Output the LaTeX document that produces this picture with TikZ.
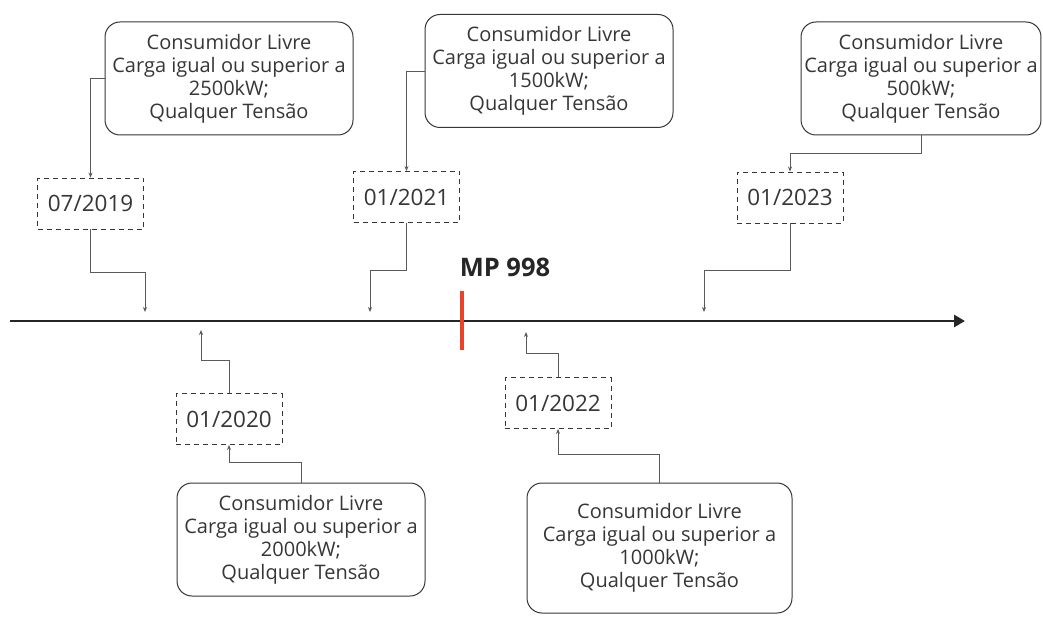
\documentclass[tikz,border=0pt]{standalone}
\usepackage{fontspec}
\setmainfont{Open Sans}
\usepackage{xcolor}
\usepackage{tikz}
\usetikzlibrary{positioning,arrows.meta,calc}
\definecolor{txtgray}{HTML}{363636}
\definecolor{linegray}{HTML}{5A5A5A}
\definecolor{mpred}{HTML}{E8442B}

\begin{document}
\begin{tikzpicture}[x=1pt,y=-1pt,
    infobox/.style={draw=txtgray, rounded corners=15pt, line width=1pt, text=txtgray,
        align=center, minimum width=248pt, minimum height=113pt,
        font=\fontsize{20}{23}\selectfont},
    datebox/.style={draw=txtgray, dash pattern=on 5pt off 4pt, line width=0.9pt, text=txtgray,
        minimum width=106pt, minimum height=51pt, font=\fontsize{22.5}{26}\selectfont},
    link/.style={draw=linegray, line width=0.9pt, -{Stealth[length=5pt,width=4pt]}}]
    \useasboundingbox (0,0) rectangle (1043,617);

    \coordinate (axstart) at (10,321);
    \coordinate (axend) at (965,321);
    \draw[line width=2.8pt, black!85, -{Triangle[length=11pt,width=12pt]}] (axstart) -- (axend);

    \coordinate (mptop) at (462,291);
    \coordinate (mpbot) at (462,350);
    \draw[mpred, line width=4.5pt] (mptop) -- (mpbot);
    \node[font=\fontsize{25.5}{30}\selectfont\bfseries, text=black!85] (mp) at (505,267) {MP 998};

    \node[infobox] (box1) at (229,78.5) {Consumidor Livre\\Carga igual ou superior a\\2500kW;\\Qualquer Tensão};
    \node[infobox] (box2) at (549,71) {Consumidor Livre\\Carga igual ou superior a\\1500kW;\\Qualquer Tensão};
    \node[infobox, minimum width=238pt] (box3) at (921,78.5) {Consumidor Livre\\Carga igual ou superior a\\500kW;\\Qualquer Tensão};
    \node[infobox] (box4) at (301,539.5) {Consumidor Livre\\Carga igual ou superior a\\2000kW;\\Qualquer Tensão};
    \node[infobox, minimum width=265pt, minimum height=130pt] (box5) at (659.5,548) {Consumidor Livre\\Carga igual ou superior a\\1000kW;\\Qualquer Tensão};

    \node[datebox] (d2019) at (90.5,203.5) {07/2019};
    \node[datebox] (d2021) at (406.5,197) {01/2021};
    \node[datebox] (d2023) at (790,197.5) {01/2023};
    \node[datebox] (d2020) at (229,419) {01/2020};
    \node[datebox] (d2022) at (558,403) {01/2022};

    \coordinate (t2019) at (145,312);
    \coordinate (t2021) at (370,312);
    \coordinate (t2023) at (704,312);
    \coordinate (t2020) at (201,330);
    \coordinate (t2022) at (526,332);

    \draw[link] (box1.west) -| (d2019.north);
    \draw[link] (d2019.south) -- ++(0,43) -| (t2019);
    \draw[link] (box2.west) -| (d2021.north);
    \draw[link] (d2021.south) -- ++(0,48) -| (t2021);
    \draw[link] (box3.south) -- ++(0,18) -| (d2023.north);
    \draw[link] (d2023.south) -- ++(0,47) -| (t2023);
    \draw[link] (box4.north) -- ++(0,-20) -| (d2020.south);
    \draw[link] (d2020.north) -- ++(0,-33) -| (t2020);
    \draw[link] (box5.north) -- ++(0,-28) -| (d2022.south);
    \draw[link] (d2022.north) -- ++(0,-24) -| (t2022);
\end{tikzpicture}
\end{document}
